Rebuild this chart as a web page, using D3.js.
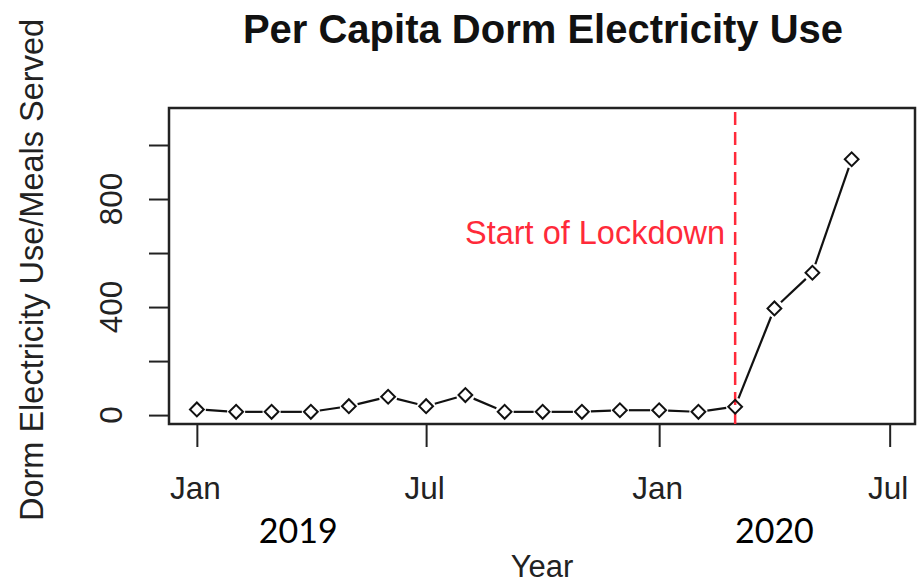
<!DOCTYPE html>
<html>
<head>
<meta charset="utf-8">
<script src="https://cdn.jsdelivr.net/npm/d3@7"></script>
<style>
  body { margin: 0; background: #fff; }
  svg { display: block; }
</style>
</head>
<body>
<div id="app"></div>
<script>
// monthly readings, first of each month
const months = [
  '2019-01-01', '2019-02-01', '2019-03-01', '2019-04-01', '2019-05-01', '2019-06-01',
  '2019-07-01', '2019-08-01', '2019-09-01', '2019-10-01', '2019-11-01', '2019-12-01',
  '2020-01-01', '2020-02-01', '2020-03-01', '2020-04-01', '2020-05-01', '2020-06-01',
]
const usePerMeal = [21, 12, 12, 12, 33, 68, 33, 74, 12, 12, 12, 18, 18, 12, 31, 395, 527, 947]

const xTickDates = ['2019-01-01', '2019-07-01', '2020-01-01', '2020-07-01']
const xTickLabels = ['Jan', 'Jul', 'Jan', 'Jul']
const yTicks = [0, 200, 400, 600, 800, 1000]
const yTickLabels = [0, 400, 800] // R drops the ones that would overlap
const years = [
  { label: '2019', date: '2019-03-22' },
  { label: '2020', date: '2020-04-01' },
]
const lockdownDate = '2020-03-01'

const parse = d3.timeParse('%Y-%m-%d')
const data = months.map((m, i) => ({ date: parse(m), value: usePerMeal[i] }))

const width = 918
const height = 585
const box = { left: 169, right: 915, top: 108, bottom: 424 }

const svg = d3.select('#app')
  .append('svg')
  .attr('width', width)
  .attr('height', height)

const x = d3.scaleTime()
  .domain([parse('2018-12-10'), parse('2020-07-21')])
  .range([box.left, box.right])

const y = d3.scaleLinear()
  .domain([-33, 1137])
  .range([box.bottom, box.top])

const font = 'Liberation Sans, Arial, sans-serif'

// title
svg.append('text')
  .attr('x', 543)
  .attr('y', 43)
  .attr('text-anchor', 'middle')
  .attr('font-family', font)
  .attr('font-weight', 'bold')
  .attr('font-size', '40px')
  .attr('fill', '#111')
  .text('Per Capita Dorm Electricity Use')

// x axis ticks hang from the bottom of the box
const xAxis = d3.axisBottom(x)
  .tickValues(xTickDates.map(parse))
  .tickSize(23)
  .tickPadding(22)
  .tickFormat((d, i) => xTickLabels[i])

const gx = svg.append('g')
  .attr('transform', `translate(0, ${box.bottom})`)
  .call(xAxis)
gx.select('.domain').remove()
gx.selectAll('.tick line').attr('stroke', '#222').attr('stroke-width', 2)
gx.selectAll('.tick text')
  .attr('font-family', font)
  .attr('font-size', '31.5px')
  .attr('fill', '#222')
  .attr('dx', '-2')
  .attr('dy', '0.95em')

// y axis, labels rotated like R's default las=0
const yAxis = d3.axisLeft(y)
  .tickValues(yTicks)
  .tickSize(20)
  .tickFormat('')

const gy = svg.append('g')
  .attr('transform', `translate(${box.left}, 0)`)
  .call(yAxis)
gy.select('.domain').remove()
gy.selectAll('.tick line').attr('stroke', '#222').attr('stroke-width', 2)

svg.append('g')
  .selectAll('text')
  .data(yTickLabels)
  .enter()
  .append('text')
  .attr('transform', (d) => `translate(122, ${y(d)}) rotate(-90)`)
  .attr('text-anchor', 'middle')
  .attr('font-family', font)
  .attr('font-size', '31.5px')
  .attr('fill', '#222')
  .text((d) => d)

// plot box
svg.append('rect')
  .attr('x', box.left)
  .attr('y', box.top)
  .attr('width', box.right - box.left)
  .attr('height', box.bottom - box.top)
  .attr('fill', 'none')
  .attr('stroke', '#222')
  .attr('stroke-width', 2.5)

// axis titles
svg.append('text')
  .attr('x', (box.left + box.right) / 2)
  .attr('y', 577)
  .attr('text-anchor', 'middle')
  .attr('font-family', font)
  .attr('font-size', '31px')
  .attr('fill', '#222')
  .text('Year')

svg.append('text')
  .attr('transform', `translate(43, 270) rotate(-90)`)
  .attr('text-anchor', 'middle')
  .attr('font-family', font)
  .attr('font-size', '32.5px')
  .attr('fill', '#222')
  .text('Dorm Electricity Use/Meals Served')

// year labels added below the month ticks
svg.append('g')
  .selectAll('text')
  .data(years)
  .enter()
  .append('text')
  .attr('x', (d) => x(parse(d.date)))
  .attr('y', 543)
  .attr('text-anchor', 'middle')
  .attr('font-family', 'Lato, "Open Sans", sans-serif')
  .attr('font-size', '34px')
  .attr('fill', '#000')
  .text((d) => d.label)

// lockdown marker
const lx = x(parse(lockdownDate))
svg.append('line')
  .attr('x1', lx)
  .attr('x2', lx)
  .attr('y1', box.top + 4)
  .attr('y2', box.bottom)
  .attr('stroke', '#ff2a3a')
  .attr('stroke-width', 2.5)
  .attr('stroke-dasharray', '13 7')

svg.append('text')
  .attr('x', lx - 10)
  .attr('y', 244)
  .attr('text-anchor', 'end')
  .attr('font-family', font)
  .attr('font-size', '32.5px')
  .attr('fill', '#ff2a3a')
  .text('Start of Lockdown')

// type = "b": segments stop short of each point
const gap = 9
const segs = d3.pairs(data).map(([a, b]) => {
  const x1 = x(a.date), y1 = y(a.value), x2 = x(b.date), y2 = y(b.value)
  const len = Math.hypot(x2 - x1, y2 - y1)
  const ux = (x2 - x1) / len, uy = (y2 - y1) / len
  return { x1: x1 + ux * gap, y1: y1 + uy * gap, x2: x2 - ux * gap, y2: y2 - uy * gap }
})

svg.append('g')
  .selectAll('line')
  .data(segs)
  .enter()
  .append('line')
  .attr('x1', (d) => d.x1)
  .attr('y1', (d) => d.y1)
  .attr('x2', (d) => d.x2)
  .attr('y2', (d) => d.y2)
  .attr('stroke', '#111')
  .attr('stroke-width', 2.2)

// open diamond markers
const marker = d3.symbol().type(d3.symbolSquare).size(95)
svg.append('g')
  .selectAll('path')
  .data(data)
  .enter()
  .append('path')
  .attr('d', marker)
  .attr('transform', (d) => `translate(${x(d.date)}, ${y(d.value)}) rotate(45)`)
  .attr('fill', 'none')
  .attr('stroke', '#111')
  .attr('stroke-width', 2)
</script>
</body>
</html>
